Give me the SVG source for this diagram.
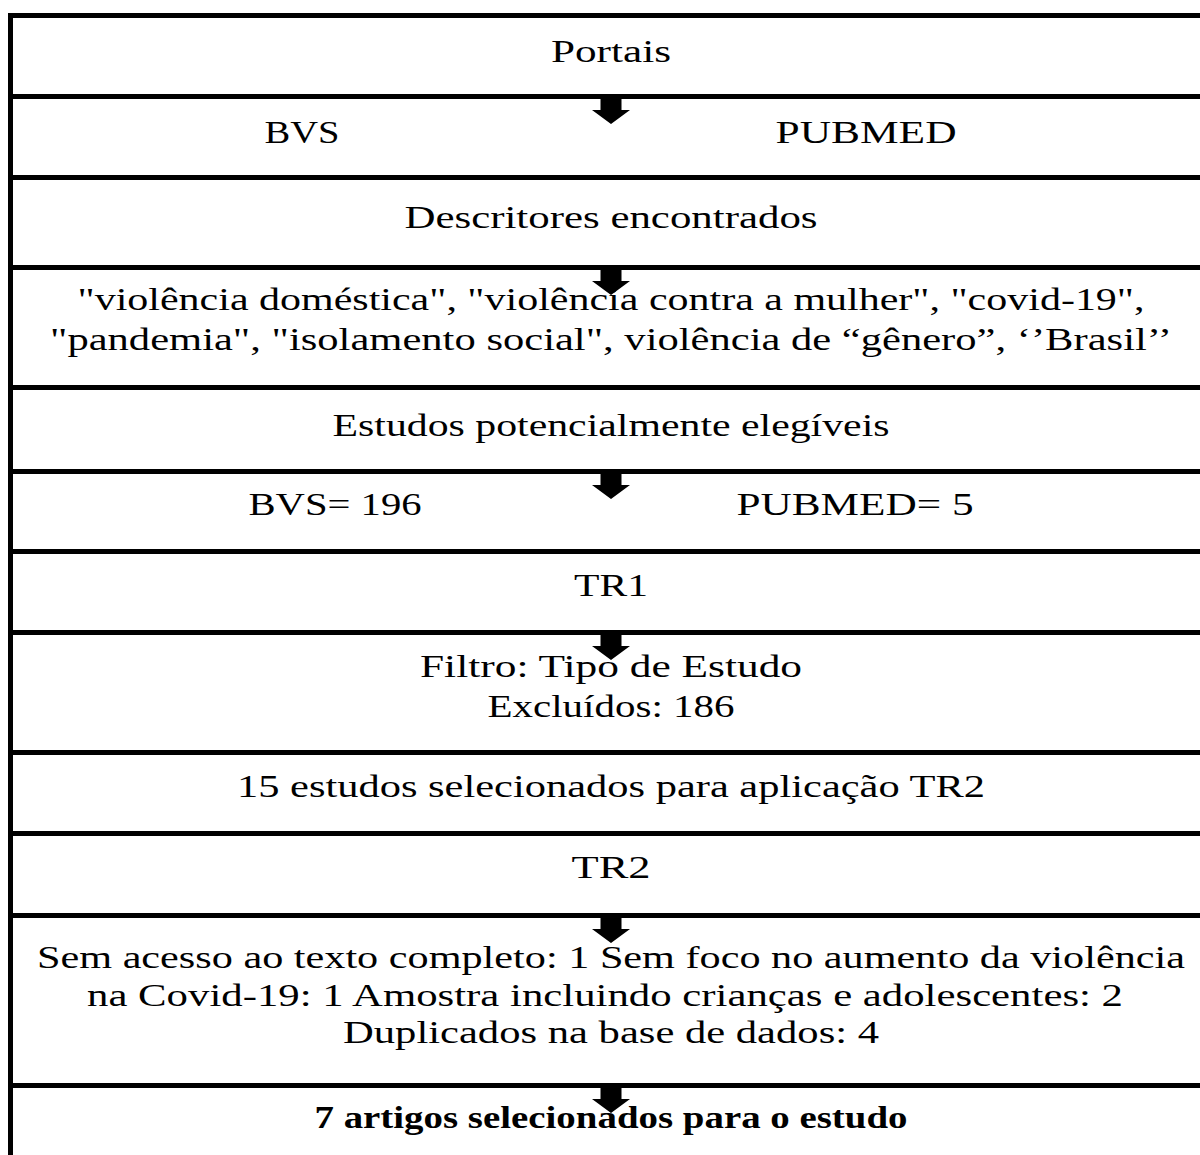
<svg xmlns="http://www.w3.org/2000/svg" width="1200" height="1155" viewBox="0 0 1200 1155">
<defs>
<style>
.t{font-family:"Liberation Serif","Times New Roman",serif;font-size:32px;fill:#000;text-anchor:middle}
.b{font-weight:bold}
.ln{stroke:#000;stroke-width:5;fill:none}
.ar{fill:#000}
</style>
<path id="arrow" d="M-10.5,0 H10.5 V13 H19 L0,27 L-19,13 H-10.5 Z"/>
</defs>
<rect width="1200" height="1155" fill="#fff"/>
<g id="frame">
<line class="ln" x1="10.5" y1="13" x2="10.5" y2="1155"/>
<line class="ln" x1="8" y1="15.5" x2="1200" y2="15.5"/>
<line class="ln" x1="8" y1="96.5" x2="1200" y2="96.5"/>
<line class="ln" x1="8" y1="177.5" x2="1200" y2="177.5"/>
<line class="ln" x1="8" y1="267.5" x2="1200" y2="267.5"/>
<line class="ln" x1="8" y1="387.5" x2="1200" y2="387.5"/>
<line class="ln" x1="8" y1="471.5" x2="1200" y2="471.5"/>
<line class="ln" x1="8" y1="551.5" x2="1200" y2="551.5"/>
<line class="ln" x1="8" y1="632.5" x2="1200" y2="632.5"/>
<line class="ln" x1="8" y1="752.5" x2="1200" y2="752.5"/>
<line class="ln" x1="8" y1="833.5" x2="1200" y2="833.5"/>
<line class="ln" x1="8" y1="915.5" x2="1200" y2="915.5"/>
<line class="ln" x1="8" y1="1085.5" x2="1200" y2="1085.5"/>
</g>
<g id="connectors">
<use href="#arrow" x="611" y="97"/>
<use href="#arrow" x="611" y="268"/>
<use href="#arrow" x="611" y="472"/>
<use href="#arrow" x="611" y="633"/>
<use href="#arrow" x="611" y="916"/>
<use href="#arrow" x="611" y="1086"/>
</g>
<g id="n1"><text class="t" x="611" y="62" textLength="120" lengthAdjust="spacingAndGlyphs">Portais</text></g>
<g id="n2">
<text class="t" x="302" y="143" textLength="75" lengthAdjust="spacingAndGlyphs">BVS</text>
<text class="t" x="866" y="143" textLength="181" lengthAdjust="spacingAndGlyphs">PUBMED</text>
</g>
<g id="n3"><text class="t" x="611" y="228" textLength="413" lengthAdjust="spacingAndGlyphs">Descritores encontrados</text></g>
<g id="n4">
<text class="t" x="611" y="310" textLength="1067" lengthAdjust="spacingAndGlyphs">"violência doméstica", "violência contra a mulher", "covid-19",</text>
<text class="t" x="611" y="350" textLength="1122" lengthAdjust="spacingAndGlyphs">"pandemia", "isolamento social", violência de “gênero”, ‘’Brasil’’</text>
</g>
<g id="n5"><text class="t" x="611" y="436" textLength="557" lengthAdjust="spacingAndGlyphs">Estudos potencialmente elegíveis</text></g>
<g id="n6">
<text class="t" x="335" y="515" textLength="173" lengthAdjust="spacingAndGlyphs">BVS= 196</text>
<text class="t" x="855" y="515" textLength="237" lengthAdjust="spacingAndGlyphs">PUBMED= 5</text>
</g>
<g id="n7"><text class="t" x="611" y="596" textLength="74" lengthAdjust="spacingAndGlyphs">TR1</text></g>
<g id="n8">
<text class="t" x="611" y="677" textLength="382" lengthAdjust="spacingAndGlyphs">Filtro: Tipo de Estudo</text>
<text class="t" x="611" y="717" textLength="247" lengthAdjust="spacingAndGlyphs">Excluídos: 186</text>
</g>
<g id="n9"><text class="t" x="611" y="797" textLength="748" lengthAdjust="spacingAndGlyphs">15 estudos selecionados para aplicação TR2</text></g>
<g id="n10"><text class="t" x="611" y="878" textLength="79" lengthAdjust="spacingAndGlyphs">TR2</text></g>
<g id="n11">
<text class="t" x="611" y="968" textLength="1148" lengthAdjust="spacingAndGlyphs">Sem acesso ao texto completo: 1 Sem foco no aumento da violência</text>
<text class="t" x="605" y="1006" textLength="1036" lengthAdjust="spacingAndGlyphs">na Covid-19: 1 Amostra incluindo crianças e adolescentes: 2</text>
<text class="t" x="611" y="1043" textLength="536" lengthAdjust="spacingAndGlyphs">Duplicados na base de dados: 4</text>
</g>
<g id="n12"><text class="t b" x="611" y="1128" textLength="593" lengthAdjust="spacingAndGlyphs">7 artigos selecionados para o estudo</text></g>
</svg>
